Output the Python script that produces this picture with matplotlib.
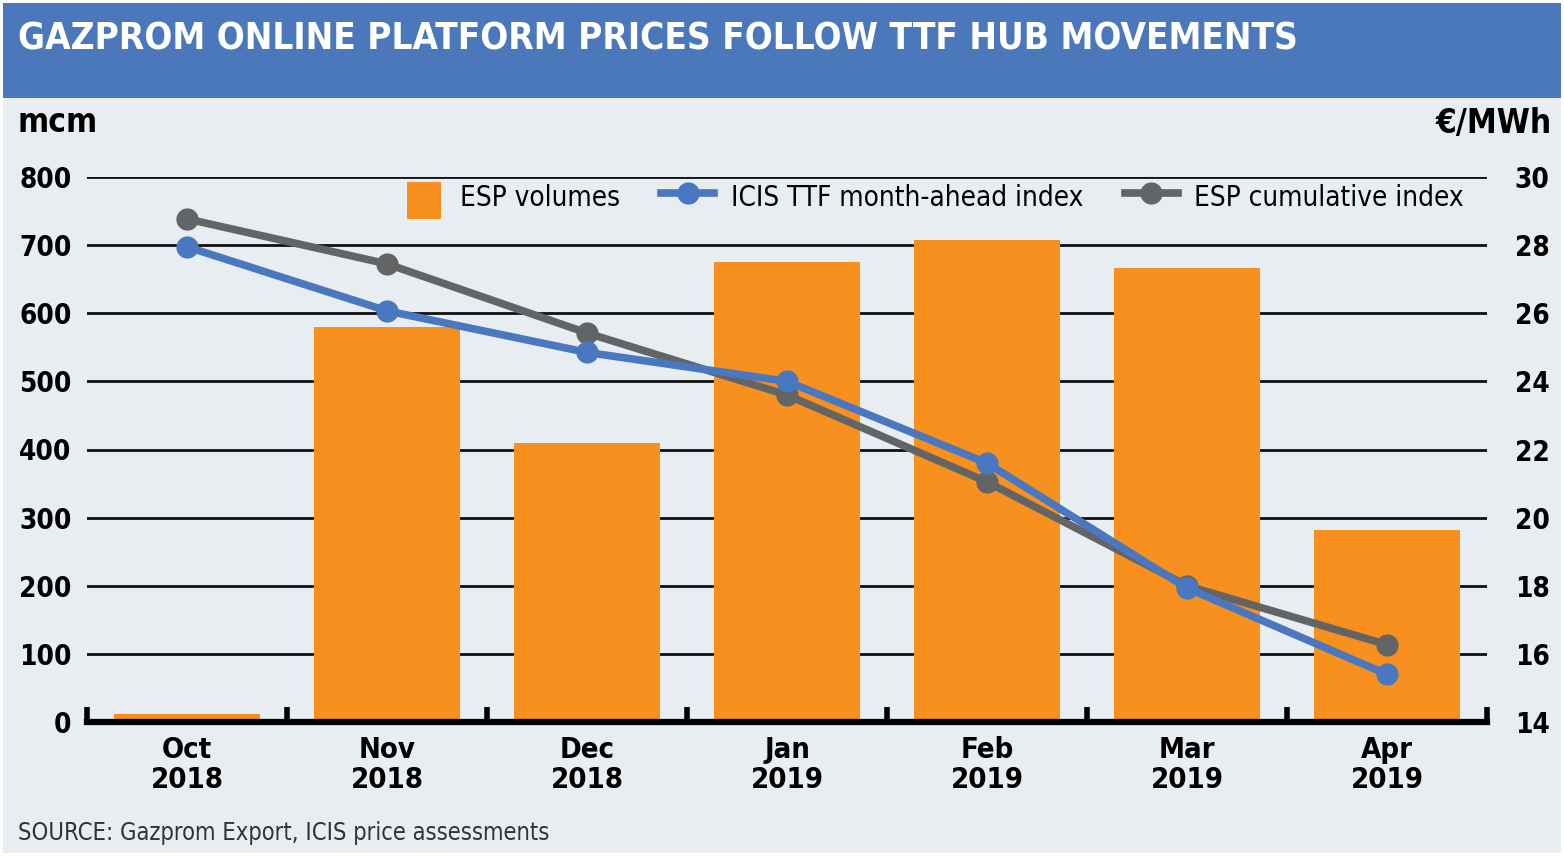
import matplotlib
matplotlib.use('Agg')
import matplotlib.pyplot as plt
from matplotlib.patches import Rectangle, Patch
from matplotlib.lines import Line2D
from matplotlib.legend_handler import HandlerPatch

months = ['Oct\n2018', 'Nov\n2018', 'Dec\n2018', 'Jan\n2019', 'Feb\n2019', 'Mar\n2019', 'Apr\n2019']
esp_volumes = [12, 580, 410, 675, 708, 667, 282]
icis_ttf = [27.95, 26.07, 24.85, 24.0, 21.6, 17.93, 15.4]
esp_cumulative = [28.77, 27.45, 25.42, 23.6, 21.05, 18.0, 16.27]

ORANGE = '#f7901e'
BLUE = '#4a78c0'
GREY = '#636466'
BG = '#e8edf1'

plt.rcParams['font.family'] = ['DejaVu Sans']
plt.rcParams['font.stretch'] = 'condensed'

W, H = 1564, 856
fig = plt.figure(figsize=(W / 100, H / 100), dpi=100, facecolor='white')
fig.patches.append(Rectangle((3 / W, 3 / H), (W - 6) / W, (H - 6) / H, transform=fig.transFigure,
                             facecolor=BG, edgecolor='none', zorder=-10))
fig.patches.append(Rectangle((3 / W, (H - 98) / H), (W - 6) / W, 95 / H, transform=fig.transFigure,
                             facecolor='#4a78bb', edgecolor='none', zorder=-9))

fig.text(18 / W, 1 - 39 / H, 'GAZPROM ONLINE PLATFORM PRICES FOLLOW TTF HUB MOVEMENTS',
         color='white', fontsize=26.5, fontweight='bold', va='center', ha='left')
fig.text(18 / W, 1 - 123 / H, 'mcm', fontsize=24, fontweight='bold', va='center', ha='left')
fig.text(1552 / W, 1 - 123 / H, '€/MWh', fontsize=24, fontweight='bold', va='center', ha='right')
fig.text(18 / W, 1 - 833 / H, 'SOURCE: Gazprom Export, ICIS price assessments',
         fontsize=17, color='#333333', va='center', ha='left')

ax = fig.add_axes([87 / W, 134 / H, 1400 / W, 545 / H])
ax.set_facecolor('none')
x = range(len(months))
ax.bar(x, esp_volumes, width=0.73, color=ORANGE, zorder=2)
ax.set_xlim(-0.5, 6.5)
ax.set_ylim(0, 800)
ax.set_yticks(range(0, 801, 100))
ax.yaxis.grid(True, color='#111111', linewidth=2, zorder=0)
ax.set_axisbelow(True)
for s in ['top', 'left', 'right']:
    ax.spines[s].set_visible(False)
ax.spines['bottom'].set_linewidth(4.5)
ax.spines['bottom'].set_zorder(5)
ax.set_xticks(list(x))
ax.set_xticklabels(months, fontsize=21, fontweight='bold', linespacing=1.1)
ax.set_xticks([i - 0.5 for i in range(len(months) + 1)], minor=True)
ax.tick_params(axis='x', which='major', length=0, pad=10)
ax.tick_params(axis='x', which='minor', length=11, width=4, direction='in')
ax.tick_params(axis='y', length=0, labelsize=20, pad=11)
for lab in ax.get_yticklabels():
    lab.set_fontweight('bold')

ax2 = ax.twinx()
ax2.set_ylim(14, 30)
ax2.set_yticks(range(14, 31, 2))
ax2.plot(x, icis_ttf, color=BLUE, lw=5.5, marker='o', ms=15, zorder=4)
ax2.plot(x, esp_cumulative, color=GREY, lw=5.5, marker='o', ms=15, zorder=3)
for s in ax2.spines.values():
    s.set_visible(False)
ax2.tick_params(axis='y', length=0, labelsize=20, pad=20)
for lab in ax2.get_yticklabels():
    lab.set_fontweight('bold')


def square(legend, orig_handle, xdescent, ydescent, width, height, fontsize):
    side = height * 1.05
    return Rectangle((width - side - xdescent, -ydescent - 0.15 * height), side * 0.95, side * 1.05)


handles = [Patch(facecolor=ORANGE),
           Line2D([], [], color=BLUE, lw=5.5, marker='o', ms=15),
           Line2D([], [], color=GREY, lw=5.5, marker='o', ms=15)]
labels = ['ESP volumes', 'ICIS TTF month-ahead index', 'ESP cumulative index']
leg = fig.legend(handles, labels, loc='center', bbox_to_anchor=(927 / W, 1 - 197 / H), ncol=3,
                 frameon=False, fontsize=20, handlelength=1.9, handleheight=1.5,
                 columnspacing=1.5, handletextpad=0.6,
                 handler_map={Patch: HandlerPatch(patch_func=square)})

fig.savefig('out.png', dpi=100, facecolor=fig.get_facecolor())
